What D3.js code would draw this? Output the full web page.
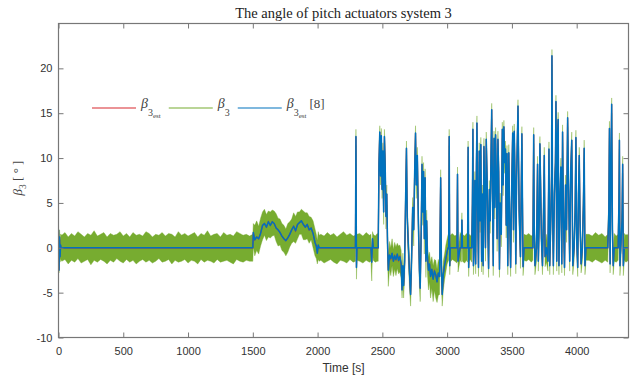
<!DOCTYPE html>
<html>
<head>
<meta charset="utf-8">
<script src="https://cdn.jsdelivr.net/npm/d3@7"></script>
<style>
  body { margin: 0; background: #fff; }
  svg { display: block; }
  .tick text { font-family: "Liberation Sans", Arial, sans-serif; font-size: 11px; fill: #333; }
  .tick line { stroke: #777; }
</style>
</head>
<body>
<svg id="chart" width="640" height="376"></svg>
<script>
// tick labels
const xTicks = [0, 500, 1000, 1500, 2000, 2500, 3000, 3500, 4000];
const yTicks = [-10, -5, 0, 5, 10, 15, 20];

// sample times [s]
const time = [
  0, 4, 8, 12, 16, 20,
  25, 50, 75, 100, 125, 150, 175, 200, 225, 250,
  275, 300, 325, 350, 375, 400, 425, 450, 475, 500,
  525, 550, 575, 600, 625, 650, 675, 700, 725, 750,
  775, 800, 825, 850, 875, 900, 925, 950, 975, 1000,
  1025, 1050, 1075, 1100, 1125, 1150, 1175, 1200, 1225, 1250,
  1275, 1300, 1325, 1350, 1375, 1400, 1425, 1450, 1475,
  1500, 1504, 1515, 1530, 1545, 1560, 1575, 1590, 1605, 1620,
  1635, 1650, 1665, 1680, 1695, 1710, 1725, 1740, 1755, 1770,
  1785, 1800, 1815, 1830, 1845, 1860, 1875, 1890, 1905, 1920,
  1935, 1950, 1965, 1980, 1990, 1998, 2005, 2012,
  2025, 2050, 2075, 2100, 2125, 2150, 2175, 2200, 2225, 2250, 2275,
  2292, 2296, 2300, 2304, 2325, 2350, 2375, 2400, 2412, 2418, 2424, 2430, 2445, 2460,
  2468, 2474, 2480, 2486, 2492, 2498, 2504, 2510, 2516, 2522,
  2528, 2534, 2540, 2546, 2555, 2565, 2575, 2585, 2595, 2605,
  2615, 2625, 2635, 2645, 2652, 2658, 2664,
  2672, 2680, 2686, 2692, 2700, 2710, 2718, 2726, 2734, 2742,
  2750, 2756, 2762, 2770, 2778, 2786, 2792, 2800, 2806, 2812,
  2818, 2824, 2830, 2836, 2842, 2848, 2856, 2864, 2872, 2882,
  2892, 2902, 2912, 2922, 2932, 2942, 2950, 2956, 2962, 2970,
  2980, 2990, 3000, 3008,
  3012, 3016, 3020, 3024, 3040, 3060, 3076, 3080, 3084, 3100,
  3110, 3114, 3118, 3135, 3150, 3158, 3162, 3166, 3170, 3180,
  3190, 3195, 3199, 3203,
  3208, 3214, 3220, 3226, 3230, 3236, 3242, 3248, 3254, 3260,
  3266, 3272, 3278, 3284, 3290, 3296, 3302, 3308, 3314, 3320,
  3326, 3332, 3338, 3344, 3350, 3356, 3362, 3368, 3374, 3380,
  3386, 3392, 3398, 3404, 3410, 3418, 3426, 3432, 3438, 3444,
  3450, 3456, 3462, 3468, 3476, 3482, 3490, 3498, 3506, 3512,
  3518, 3524, 3530, 3536, 3547, 3556, 3566, 3577, 3586, 3594,
  3610, 3630, 3650, 3662, 3668, 3672, 3678, 3690, 3698, 3704,
  3712, 3716, 3722, 3728, 3736, 3744, 3750, 3756, 3766, 3778,
  3786, 3792, 3800, 3806, 3809, 3814, 3820, 3828, 3836, 3840,
  3846, 3852, 3857, 3863, 3870, 3878, 3885, 3891, 3898, 3906,
  3914, 3922, 3930, 3938, 3946, 3954, 3962, 3970, 3980, 3988,
  3994, 4000, 4008, 4014, 4020, 4026, 4034, 4044, 4052, 4058,
  4064, 4072,
  4095, 4120, 4145, 4170, 4195, 4220, 4240, 4248, 4253, 4258,
  4264, 4270, 4276, 4282, 4290, 4305, 4320, 4326, 4330, 4334,
  4340, 4350, 4355, 4360, 4368, 4380, 4390, 4400
];

// beta3_est [8] (blue); beta3_est (red) lies under it
const beta3Est8 = [
  2.0, -2.5, 1.2, -1.0, 0.3, 0,
  0, 0, 0, 0, 0, 0, 0, 0, 0, 0,
  0, 0, 0, 0, 0, 0, 0, 0, 0, 0,
  0, 0, 0, 0, 0, 0, 0, 0, 0, 0,
  0, 0, 0, 0, 0, 0, 0, 0, 0, 0,
  0, 0, 0, 0, 0, 0, 0, 0, 0, 0,
  0, 0, 0, 0, 0, 0, 0, 0, 0,
  0, 1.7, 0.9, 1.2, 1.0, 1.6, 2.5, 2.7, 2.3, 2.9,
  2.5, 2.9, 2.7, 2.2, 2.0, 1.7, 1.3, 1.0, 0.8, 1.1,
  1.5, 2.0, 2.4, 1.9, 2.6, 2.8, 3.0, 2.6, 2.3, 2.6,
  2.0, 2.2, 1.6, 0.6, 0.2, -0.6, 0.3, 0,
  0, 0, 0, 0, 0, 0, 0, 0, 0, 0, 0,
  0, 12.4, -2.2, 0, 0, 0, 0, 0, 0, -1.6, 1.0, 0, 0, 0,
  0, 9.5, 12.9, 8.0, 12.5, 6.5, 10.8, 4.0, 12.4, 9.0,
  3.5, 6.0, 0.5, -2.5, -0.8, -1.2, -0.6, -1.5, -0.9, -1.3,
  -0.7, -1.4, -1.0, -1.8, -4.7, -2.0, -4.2,
  -1.5, 6.0, 11.1, 3.5, 0.5, -3.0, -5.2, -1.0, 4.5, 2.0,
  9.0, 12.8, 7.0, 10.3, 3.0, -2.5, -4.5, 2.0, 9.3, 4.0,
  8.5, 1.0, 7.8, -1.5, 3.0, -1.0, -2.5, -1.8, -3.2, -2.4,
  -3.5, -2.6, -3.0, -3.8, -2.8, -3.2, 7.8, -2.0, -5.2, -3.0,
  -2.0, -1.2, -0.4, 0,
  0, 12.4, -2.0, 0, 0, 0, 0, 8.2, -1.5, 0,
  0, 3.1, 0, 0, 0, 0, 11.2, -2.2, 0, 0,
  0, 5.0, 13.2, -2.0,
  0, 7.5, -1.8, 9.0, 13.9, 4.0, -2.2, 10.8, 3.0, 11.5,
  -1.5, 6.0, -2.0, 11.3, 5.5, 0.0, 12.1, 8.0, 2.5, -2.3,
  6.5, 3.0, 9.5, 15.4, 6.0, -2.0, 12.2, 4.5, 12.6, 7.0,
  1.0, 12.1, 8.5, -2.4, 5.0, 1.5, 13.2, 7.0, 13.5, 9.5,
  11.0, 2.5, 10.5, -2.0, 10.6, 4.0, -2.2, 6.5, 12.8, 2.0,
  13.0, 8.0, -1.8, 7.5, 15.8, 4.0, -1.0, 12.7, -2.1, 0,
  0, 0, 0, 0, 12.6, 3.0, -2.0, 0, 9.3, -1.5,
  4.0, 11.6, 6.7, 1.0, -2.0, 4.0, 10.3, -1.0, 0, -1.5,
  11.0, -2.0, 3.0, 8.0, 21.4, 4.0, -2.0, 6.0, 9.5, 16.3,
  -1.5, 12.4, 14.3, -2.0, 5.0, 9.0, -1.8, 12.9, 3.5, -2.2,
  7.0, 2.0, 14.5, 6.0, -1.5, 8.5, 12.0, -2.0, 0, 4.0,
  12.3, 1.0, -2.2, 6.0, 10.3, 3.0, -1.8, 0, 5.0, 11.1,
  -2.0, 0,
  0, 0, 0, 0, 0, 0, 0, 4.0, 13.3, -1.8,
  8.0, 16.0, 2.0, -2.0, 0, 0, 0, 5.0, 12.0, -2.0,
  0, 3.0, 9.3, -2.0, 0, 0, 0, 0
];

// beta3 (green) is a noisy band: how far it reaches above / below the estimate
const bandAbove = [
  0.6, 1.5, 0.8, 1.8, 1.2, 1.5,
  1.4, 1.7, 1.2, 1.6, 1.3, 1.8, 1.5, 1.2, 1.6, 1.4,
  1.9, 1.3, 1.5, 1.7, 1.2, 1.6, 1.4, 1.5, 1.8, 1.3,
  1.6, 1.2, 1.7, 1.4, 1.5, 1.3, 1.8, 1.6, 1.2, 1.5,
  1.4, 1.7, 1.3, 1.6, 1.5, 1.2, 1.8, 1.4, 1.6, 1.3,
  1.5, 1.7, 1.2, 1.6, 1.4, 1.9, 1.3, 1.5, 1.6, 1.2,
  1.7, 1.4, 1.5, 1.3, 1.8, 1.6, 1.4, 1.5, 1.3,
  1.5, 1.0, 1.6, 1.8, 1.4, 1.7, 1.5, 1.6, 1.4, 1.2,
  1.5, 1.3, 1.4, 1.6, 1.3, 1.5, 1.4, 1.5, 1.3, 1.6,
  1.4, 1.2, 1.5, 1.6, 1.4, 1.2, 1.3, 1.5, 1.6, 1.3,
  1.5, 1.2, 1.4, 1.5, 1.3, 1.4, 1.5, 1.4,
  1.5, 1.3, 1.7, 1.4, 1.6, 1.2, 1.5, 1.8, 1.4, 1.6, 1.3,
  1.4, 0.8, 1.2, 1.5, 1.6, 1.3, 1.7, 1.4, 1.5, 1.2, 0.8, 1.5, 1.3, 1.6,
  1.5, 0.8, 0.7, 1.0, 0.8, 1.2, 0.9, 1.3, 0.8, 1.0,
  1.2, 1.0, 1.4, 1.3, 1.5, 1.2, 1.6, 1.3, 1.5, 1.4,
  1.2, 1.6, 1.3, 1.5, 1.0, 1.4, 1.2,
  1.2, 1.0, 0.8, 1.2, 1.4, 1.3, 1.0, 1.4, 1.1, 1.3,
  1.0, 0.8, 1.2, 0.9, 1.2, 1.4, 1.3, 1.2, 0.9, 1.3,
  1.0, 1.4, 1.0, 1.5, 1.2, 1.4, 1.5, 1.3, 1.6, 1.4,
  1.5, 1.3, 1.6, 1.4, 1.5, 1.3, 0.9, 1.4, 1.2, 1.5,
  1.3, 1.5, 1.4, 1.5,
  1.5, 0.8, 1.0, 1.4, 1.6, 1.3, 1.5, 0.8, 1.2, 1.7,
  1.4, 0.8, 1.5, 1.3, 1.6, 1.4, 0.7, 1.0, 1.5, 1.3,
  1.6, 1.0, 0.8, 1.0,
  1.5, 1.0, 1.3, 1.0, 0.8, 1.2, 1.3, 0.9, 1.2, 0.8,
  1.3, 1.0, 1.4, 0.9, 1.2, 1.5, 0.8, 1.1, 1.3, 1.3,
  1.0, 1.2, 1.0, 0.7, 1.1, 1.4, 0.8, 1.2, 0.8, 1.1,
  1.3, 0.9, 1.0, 1.4, 1.1, 1.3, 0.8, 1.1, 0.7, 1.0,
  0.9, 1.3, 0.9, 1.4, 0.9, 1.2, 1.3, 1.1, 0.8, 1.3,
  0.8, 1.1, 1.4, 1.0, 0.7, 1.2, 1.4, 0.8, 1.4, 1.5,
  1.4, 1.6, 1.3, 1.5, 0.8, 1.2, 1.3, 1.6, 0.9, 1.3,
  1.2, 0.8, 1.1, 1.3, 1.4, 1.2, 0.9, 1.3, 1.5, 1.3,
  0.8, 1.4, 1.2, 1.0, 0.7, 1.2, 1.4, 1.1, 1.0, 0.7,
  1.3, 0.9, 0.8, 1.4, 1.2, 1.0, 1.3, 0.8, 1.2, 1.4,
  1.1, 1.3, 0.7, 1.1, 1.4, 1.0, 0.9, 1.3, 1.5, 1.2,
  0.8, 1.3, 1.4, 1.1, 0.9, 1.2, 1.3, 1.6, 1.1, 0.9,
  1.3, 1.5,
  1.5, 1.3, 1.7, 1.4, 1.6, 1.2, 1.5, 1.2, 0.8, 1.3,
  1.0, 0.7, 1.2, 1.4, 1.6, 1.3, 1.5, 1.1, 0.8, 1.3,
  1.4, 1.2, 0.9, 1.3, 1.6, 1.4, 1.5, 1.3
];
const bandBelow = [
  1.0, 0.3, 2.0, 0.6, 1.5, 1.4,
  1.5, 1.3, 1.8, 1.4, 1.6, 1.2, 1.7, 1.5, 1.3, 1.9,
  1.4, 1.6, 1.3, 1.5, 1.8, 1.4, 1.6, 1.2, 1.5, 1.7,
  1.3, 1.6, 1.4, 1.8, 1.5, 1.3, 1.6, 1.4, 1.7, 1.5,
  1.2, 1.6, 1.5, 1.3, 1.8, 1.4, 1.6, 1.5, 1.3, 1.7,
  1.4, 1.5, 1.8, 1.3, 1.6, 1.4, 1.5, 1.7, 1.3, 1.6,
  1.5, 1.4, 1.6, 1.8, 1.3, 1.5, 1.6, 1.4, 1.5,
  1.5, 1.6, 1.8, 1.5, 1.7, 1.4, 1.6, 1.3, 1.5, 1.7,
  1.4, 1.6, 1.3, 1.5, 1.8, 1.4, 1.6, 1.5, 1.7, 1.6,
  1.4, 1.5, 1.7, 1.4, 1.6, 1.3, 1.5, 1.7, 1.4, 1.6,
  1.5, 1.3, 1.6, 1.5, 1.4, 1.2, 1.6, 1.5,
  1.4, 1.7, 1.5, 1.3, 1.6, 1.8, 1.4, 1.5, 1.7, 1.3, 1.6,
  1.5, 1.0, 1.3, 1.4, 1.5, 1.7, 1.4, 1.6, 1.5, 2.1, 1.5, 1.4, 1.6, 1.5,
  1.5, 1.0, 1.2, 1.0, 1.3, 1.0, 1.2, 1.4, 1.1, 1.2,
  1.4, 1.2, 1.8, 1.8, 1.6, 1.9, 1.4, 1.7, 1.5, 1.8,
  1.6, 1.5, 1.7, 1.6, 0.9, 1.5, 1.4,
  1.8, 1.5, 1.2, 1.6, 1.8, 1.7, 1.3, 1.6, 1.5, 1.8,
  1.4, 1.2, 1.5, 1.3, 1.6, 1.8, 1.5, 1.6, 1.3, 1.5,
  1.4, 1.7, 1.4, 1.8, 1.6, 1.9, 2.2, 2.0, 2.4, 2.1,
  2.5, 2.2, 2.6, 2.3, 2.5, 2.0, 1.2, 2.2, 1.3, 1.8,
  1.6, 1.5, 1.4, 1.5,
  1.4, 1.0, 1.0, 1.6, 1.3, 1.5, 1.7, 1.0, 1.2, 1.4,
  1.6, 1.0, 1.5, 1.7, 1.4, 1.6, 1.0, 1.0, 1.5, 1.3,
  1.6, 1.0, 1.0, 1.0,
  1.4, 1.2, 1.1, 1.2, 1.0, 1.3, 1.0, 1.2, 1.3, 1.2,
  1.2, 1.3, 1.0, 1.1, 1.3, 1.5, 1.0, 1.2, 1.4, 1.0,
  1.2, 1.4, 1.2, 1.0, 1.3, 1.1, 1.1, 1.3, 1.0, 1.2,
  1.4, 1.0, 1.2, 0.9, 1.3, 1.4, 1.0, 1.2, 1.1, 1.2,
  1.1, 1.4, 1.2, 1.0, 1.1, 1.3, 1.0, 1.2, 1.0, 1.4,
  1.1, 1.2, 1.1, 1.3, 1.0, 1.3, 1.3, 1.1, 1.0, 1.4,
  1.5, 1.3, 1.6, 1.4, 1.0, 1.3, 1.0, 1.5, 1.1, 1.1,
  1.3, 1.0, 1.2, 1.4, 1.0, 1.3, 1.1, 1.1, 1.6, 1.1,
  1.1, 1.0, 1.3, 1.2, 1.0, 1.3, 1.0, 1.2, 1.1, 1.0,
  1.1, 1.0, 1.1, 1.0, 1.3, 1.2, 1.0, 1.1, 1.3, 0.9,
  1.2, 1.4, 1.0, 1.3, 1.1, 1.2, 1.1, 1.0, 1.5, 1.3,
  1.1, 1.4, 1.0, 1.3, 1.1, 1.3, 1.0, 1.5, 1.3, 1.1,
  1.0, 1.4,
  1.4, 1.6, 1.3, 1.5, 1.7, 1.4, 1.6, 1.3, 1.1, 1.0,
  1.2, 1.0, 1.3, 1.0, 1.5, 1.6, 1.4, 1.2, 1.0, 1.1,
  1.5, 1.3, 1.0, 1.1, 1.4, 1.6, 1.5, 1.4
];

if (beta3Est8.length !== time.length || bandAbove.length !== time.length || bandBelow.length !== time.length) {
  throw new Error("length mismatch " + [time.length, beta3Est8.length, bandAbove.length, bandBelow.length]);
}

const colors = { est: "#D7282F", beta: "#77AC30", est8: "#0072BD", axis: "#777" };

const svg = d3.select("#chart");
const plotLeft = 58.5, plotRight = 628.5, plotTop = 23.5, plotBottom = 337.5;

const x = d3.scaleLinear().domain([0, 4400]).range([plotLeft, plotRight]);
const y = d3.scaleLinear().domain([-10, 25]).range([plotBottom, plotTop]);

svg.append("defs").append("clipPath").attr("id", "plotClip")
  .append("rect").attr("x", plotLeft).attr("y", plotTop)
  .attr("width", plotRight - plotLeft).attr("height", plotBottom - plotTop);

const idx = d3.range(time.length);
const plot = svg.append("g").attr("clip-path", "url(#plotClip)");

const band = d3.area()
  .x(i => x(time[i]))
  .y0(i => y(beta3Est8[i] - bandBelow[i]))
  .y1(i => y(beta3Est8[i] + bandAbove[i]));

const line = d3.line()
  .x(i => x(time[i]))
  .y(i => y(beta3Est8[i]));

plot.append("path").datum(idx).attr("d", band)
  .attr("fill", colors.beta).attr("stroke", colors.beta).attr("stroke-width", 0.4);

plot.append("path").datum(idx).attr("d", line)
  .attr("fill", "none").attr("stroke", colors.est).attr("stroke-width", 1.2);

plot.append("path").datum(idx).attr("d", line)
  .attr("fill", "none").attr("stroke", colors.est8).attr("stroke-width", 1.5)
  .attr("stroke-linejoin", "round");

// axes, MATLAB box style with inward ticks on all sides
const fmt = d => String(d);
const gx = svg.append("g").attr("transform", `translate(0,${plotBottom})`)
  .call(d3.axisBottom(x).tickValues(xTicks).tickFormat(fmt).tickSizeInner(-5).tickSizeOuter(0).tickPadding(9.5));
const gxTop = svg.append("g").attr("transform", `translate(0,${plotTop})`)
  .call(d3.axisTop(x).tickValues(xTicks).tickFormat("").tickSizeInner(-5).tickSizeOuter(0));
const gy = svg.append("g").attr("transform", `translate(${plotLeft},0)`)
  .call(d3.axisLeft(y).tickValues(yTicks).tickFormat(fmt).tickSizeInner(-5).tickSizeOuter(0).tickPadding(6));
const gyRight = svg.append("g").attr("transform", `translate(${plotRight},0)`)
  .call(d3.axisRight(y).tickValues(yTicks).tickFormat("").tickSizeInner(-5).tickSizeOuter(0));

[gx, gxTop, gy, gyRight].forEach(g => g.select(".domain").remove());

svg.append("rect")
  .attr("x", plotLeft).attr("y", plotTop)
  .attr("width", plotRight - plotLeft).attr("height", plotBottom - plotTop)
  .attr("fill", "none").attr("stroke", colors.axis).attr("stroke-width", 1.2);

// title and axis labels
svg.append("text")
  .attr("x", (plotLeft + plotRight) / 2).attr("y", 18)
  .attr("text-anchor", "middle")
  .style("font-family", "'Liberation Serif', 'DejaVu Serif', serif")
  .style("font-size", "14.5px").style("fill", "#222")
  .text("The angle of pitch actuators system 3");

svg.append("text")
  .attr("x", (plotLeft + plotRight) / 2).attr("y", 372)
  .attr("text-anchor", "middle")
  .style("font-family", "'Liberation Sans', Arial, sans-serif")
  .style("font-size", "12px").style("fill", "#333")
  .text("Time [s]");

const yl = svg.append("text")
  .attr("transform", "translate(22,178) rotate(-90)")
  .attr("text-anchor", "middle")
  .style("font-family", "'Liberation Serif', serif")
  .style("font-size", "13px").style("fill", "#444");
yl.append("tspan").style("font-style", "italic").text("β");
yl.append("tspan").attr("dy", 4).style("font-size", "9.5px").text("3");
yl.append("tspan").attr("dy", -4).text(" [ ° ]");

// legend (no box)
const legendEntries = [
  { key: "est", sub: "est", tail: "" },
  { key: "beta", sub: "", tail: "" },
  { key: "est8", sub: "est", tail: "[8]" }
];
let lx = 92;
const ly = 108;
legendEntries.forEach(d => {
  svg.append("line")
    .attr("x1", lx).attr("x2", lx + 44).attr("y1", ly).attr("y2", ly)
    .attr("stroke", colors[d.key]).attr("stroke-width", 1.2);
  const t = svg.append("text")
    .attr("x", lx + 49).attr("y", ly)
    .style("font-family", "'Liberation Serif', serif")
    .style("font-size", "14px").style("fill", "#444");
  t.append("tspan").style("font-style", "italic").text("β");
  t.append("tspan").attr("dy", 8).style("font-size", "10px").text("3");
  if (d.sub) t.append("tspan").attr("dy", 2).style("font-size", "7px").text(d.sub);
  if (d.tail) t.append("tspan").attr("dy", d.sub ? -10 : -8).attr("dx", 3).style("font-size", "13px").text(d.tail);
  lx += 49 + t.node().getComputedTextLength() + 8;
});
</script>
</body>
</html>
